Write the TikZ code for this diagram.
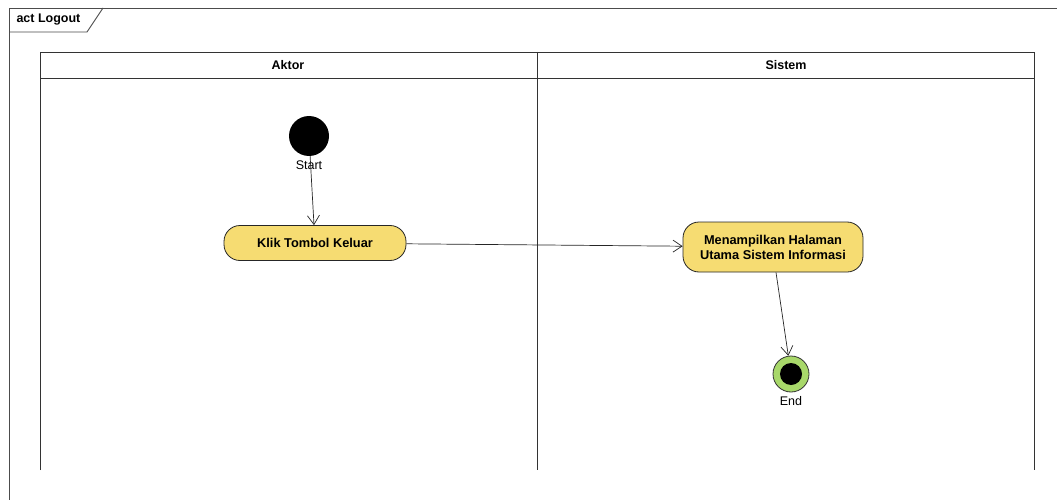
\documentclass[tikz,border=0pt]{standalone}
\usepackage{fontspec}
\setmainfont{Liberation Sans}
\usetikzlibrary{arrows.meta}
\definecolor{actfill}{HTML}{F6DC72}
\definecolor{endgreen}{HTML}{A8D86A}
\tikzset{
  lane/.style={draw=black!80, line width=0.9pt},
  action/.style={draw=black!85, line width=0.8pt, fill=actfill, rectangle, rounded corners=16pt, minimum height=35pt, font=\bfseries\fontsize{12.8}{15}\selectfont, align=center, inner sep=2pt},
  flow/.style={draw=black!85, line width=0.7pt, -{Straight Barb[length=9pt,width=12pt]}},
  lbl/.style={font=\fontsize{12.5}{14}\selectfont},
  hdr/.style={font=\bfseries\fontsize{12.5}{14}\selectfont}
}
\begin{document}
\begin{tikzpicture}[x=1pt,y=-1pt]
\useasboundingbox (0,0) rectangle (1057,500);
\fill[white] (0,0) rectangle (1057,500);
% frame
\draw[draw=black!70, line width=0.9pt] (9,500) -- (9,8) -- (1057,8);
\draw[draw=black!70, line width=0.9pt] (9,32) -- (87,32) -- (103,8);
\node[anchor=west, hdr] (title) at (13,20) {act Logout};
% swimlanes
\draw[lane] (40,470) -- (40,52) -- (1034,52) -- (1034,470);
\draw[lane] (40,78) -- (1034,78);
\draw[lane] (537,52) -- (537,470);
\node[hdr] (h1) at (288,65) {Aktor};
\node[hdr] (h2) at (786,65) {Sistem};
% start
\node[circle, fill=black, minimum size=40pt, inner sep=0pt] (start) at (309,136) {};
\node[lbl] (startl) at (309,165) {Start};
% actions
\node[action, minimum width=182pt] (klik) at (315,243) {Klik Tombol Keluar};
\node[action, minimum width=180pt, minimum height=50pt] (menam) at (773,247) {Menampilkan Halaman\\Utama Sistem Informasi};
% end
\node[circle, draw=black!80, line width=0.8pt, fill=endgreen, minimum size=36pt, inner sep=0pt] (end) at (791,374) {};
\node[circle, fill=black, minimum size=22pt, inner sep=0pt] (endin) at (end.center) {};
\node[lbl] (endl) at (791,401) {End};
% flows
\draw[flow] (start) -- (klik);
\draw[flow] (klik) -- (menam);
\draw[flow] (menam.south) ++(3,0) coordinate (ms) (ms) -- (end);
\end{tikzpicture}
\end{document}
